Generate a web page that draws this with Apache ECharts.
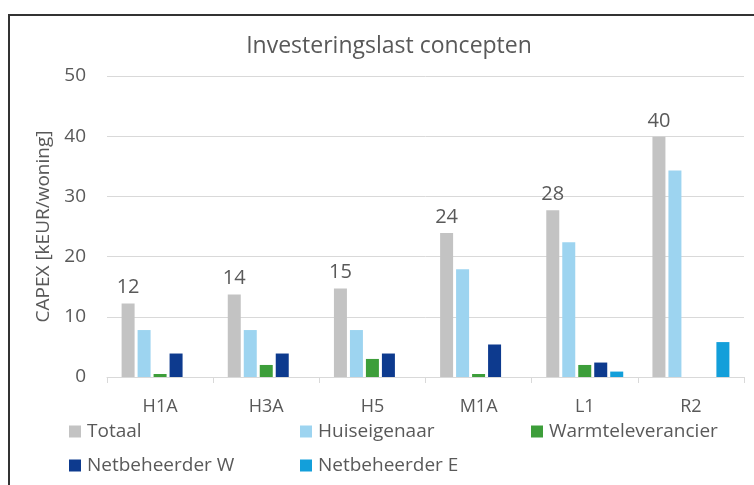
<!DOCTYPE html>
<html>
<head>
<meta charset="utf-8">
<script src="https://cdn.jsdelivr.net/npm/echarts@6/dist/echarts.min.js"></script>
<style>
  html, body { margin: 0; padding: 0; background: #fff; }
  #main { width: 754px; height: 485px; }
</style>
</head>
<body>
<div id="main"></div>
<script>
// concepten
var categories = ['H1A', 'H3A', 'H5', 'M1A', 'L1', 'R2'];
// CAPEX per partij [kEUR/woning]
var totaal = [12.2, 13.7, 14.7, 23.9, 27.7, 39.9];
var huiseigenaar = [7.8, 7.8, 7.8, 17.9, 22.4, 34.3];
var warmteleverancier = [0.5, 2.0, 3.0, 0.5, 2.0, 0];
var netbeheerderW = [3.9, 3.9, 3.9, 5.4, 2.4, 0];
var netbeheerderE = [0, 0, 0, 0, 0.9, 5.8];
var yTicks = [0, 10, 20, 30, 40, 50];

var textColor = '#595959';
var font = 'Open Sans';

var myChart = echarts.init(document.getElementById('main'));

function legendAt(name, left, top) {
	return {
		data: [name],
		left: left,
		top: top,
		padding: 0,
		itemWidth: 12,
		itemHeight: 12,
		itemGap: 0,
		icon: 'rect',
		textStyle: { color: textColor, fontSize: 19, fontFamily: font, padding: [0, 0, 0, 1] }
	};
}

function barSeries(name, data, color, withLabel) {
	var s = {
		name: name,
		type: 'bar',
		data: data,
		barWidth: 13,
		barGap: '23%',
		barCategoryGap: '26%',
		itemStyle: { color: color },
		animation: false
	};
	if (withLabel) {
		s.label = {
			show: true,
			position: 'top',
			distance: 6,
			color: textColor,
			fontSize: 20,
			fontFamily: font,
			formatter: function(p) { return Math.round(p.value); }
		};
	}
	return s;
}

myChart.setOption({
	backgroundColor: '#fff',
	title: {
		text: 'Investeringslast concepten',
		left: 384,
		textAlign: 'center',
		top: 30,
		textStyle: { color: textColor, fontSize: 23, fontWeight: 'normal', fontFamily: font }
	},
	graphic: [{
		type: 'rect',
		shape: { x: 9, y: 15, width: 800, height: 500 },
		style: { fill: 'none', stroke: '#333', lineWidth: 2 },
		silent: true
	}],
	legend: [
		legendAt('Totaal', 69, 422),
		legendAt('Huiseigenaar', 300, 422),
		legendAt('Warmteleverancier', 531, 422),
		legendAt('Netbeheerder W', 69, 456),
		legendAt('Netbeheerder E', 300, 456)
	],
	grid: { left: 107, right: 10, top: 76, bottom: 108 },
	xAxis: {
		type: 'category',
		data: categories,
		axisLine: { lineStyle: { color: '#d9d9d9' } },
		axisTick: { show: true, length: 6, lineStyle: { color: '#d9d9d9' } },
		axisLabel: { color: textColor, fontSize: 18, fontFamily: font, margin: 21 }
	},
	yAxis: {
		type: 'value',
		min: yTicks[0],
		max: yTicks[yTicks.length - 1],
		interval: 10,
		name: 'CAPEX [kEUR/woning]',
		nameLocation: 'middle',
		nameGap: 48,
		nameTextStyle: { color: textColor, fontSize: 19, fontFamily: font },
		axisLine: { show: false },
		axisTick: { show: false },
		splitLine: { lineStyle: { color: '#d9d9d9' } },
		axisLabel: { color: textColor, fontSize: 19, fontFamily: font, margin: 21 }
	},
	series: [
		barSeries('Totaal', totaal, '#c3c3c3', true),
		barSeries('Huiseigenaar', huiseigenaar, '#9dd4f0'),
		barSeries('Warmteleverancier', warmteleverancier, '#3d9e3a'),
		barSeries('Netbeheerder W', netbeheerderW, '#0d3a8e'),
		barSeries('Netbeheerder E', netbeheerderE, '#139fda')
	]
});
</script>
</body>
</html>
